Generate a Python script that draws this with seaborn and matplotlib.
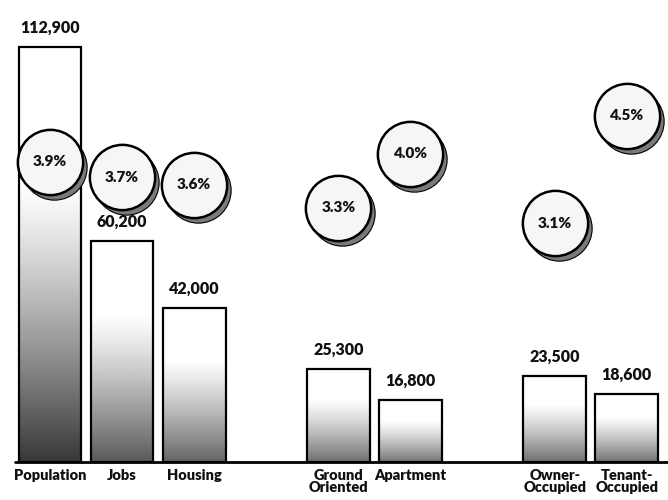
import numpy as np
import pandas as pd
import matplotlib
matplotlib.use('Agg')
import matplotlib.pyplot as plt
from matplotlib.transforms import offset_copy
import seaborn as sns

# data
categories = ['Population', 'Jobs', 'Housing', 'Ground\nOriented', 'Apartment',
              'Owner-\nOccupied', 'Tenant-\nOccupied']
groups = ['Total', 'Total', 'Total', 'Type', 'Type', 'Tenure', 'Tenure']
values = [112900, 60200, 42000, 25300, 16800, 23500, 18600]
growth = [3.9, 3.7, 3.6, 3.3, 4.0, 3.1, 4.5]

sns.set_theme(style='white')
plt.rcParams['font.family'] = ['Lato', 'DejaVu Sans']

# leave one empty slot between groups
group_idx = pd.Series(groups).ne(pd.Series(groups).shift()).cumsum() - 1
df = pd.DataFrame({'category': categories, 'group': groups, 'value': values,
                   'growth': growth})
df['pos'] = np.arange(len(df)) + group_idx.values

fig = plt.figure(figsize=(6.68, 5), dpi=100)
ax = fig.add_axes([0, 38 / 500, 1, 462 / 500])

sns.barplot(data=df, x='pos', y='value', native_scale=True, width=0.87,
            errorbar=None, color='white', edgecolor='black', linewidth=1.6,
            ax=ax, zorder=3)

# white-to-grey fade inside each bar
hmax = max(values)
for p in ax.patches:
    x0, w, h = p.get_x(), p.get_width(), p.get_height()
    t = np.linspace(0, 1, 300)[:, None]
    s = np.clip((t - 0.33) / 0.67, 0, 1) ** 1.2
    dmax = 0.5 + 0.28 * h / hmax
    grad = 1 - dmax * s
    im = ax.imshow(grad, extent=[x0, x0 + w, 0, h], aspect='auto', cmap='gray',
                   vmin=0, vmax=1, zorder=2, interpolation='bilinear')
    im.set_clip_path(p)
    p.set_facecolor('none')

for _, r in df.iterrows():
    ax.annotate(f"{r['value']:,}", (r['pos'], r['value']), xytext=(0, 8),
                textcoords='offset points', ha='center', va='bottom',
                fontsize=11.5, fontweight='heavy', color='#111111')

ax.set_xlim(-50 / 72.1, (668 - 50) / 72.1)
ax.set_ylim(0, 462 / 3.676 * 1000)
ax.axhline(0, xmin=0.022, color='black', lw=2, clip_on=False, zorder=5)
ax.set_xticks(df['pos'])
ax.set_xticklabels(df['category'], fontsize=10.5, fontweight='heavy',
                   color='#111111', linespacing=0.95)
ax.tick_params(axis='x', length=0, pad=5)
ax.set_yticks([])
ax.set_xlabel('')
ax.set_ylabel('')
sns.despine(ax=ax, left=True, bottom=True)

# growth-rate bubbles
ax2 = ax.twinx()
ax2.set_ylim(0, 6)
shadow = offset_copy(ax2.transData, fig=fig, x=4, y=-5, units='dots')
ax2.scatter(df['pos'], df['growth'], s=2209, color='#7a7a7a',
            edgecolor='black', linewidth=0.8, transform=shadow, zorder=4)
sns.scatterplot(data=df, x='pos', y='growth', s=2209, color='#f6f6f6',
                edgecolor='black', linewidth=1.8, ax=ax2, zorder=5, legend=False)
for _, r in df.iterrows():
    ax2.text(r['pos'], r['growth'], f"{r['growth']}%", ha='center', va='center',
             fontsize=11, fontweight='heavy', color='#111111', zorder=6)
ax2.set_xlim(ax.get_xlim())
ax2.set_yticks([])
ax2.set_ylabel('')
ax2.set_xlabel('')
sns.despine(ax=ax2, left=True, bottom=True, right=True)

fig.savefig('out.png', dpi=100)
